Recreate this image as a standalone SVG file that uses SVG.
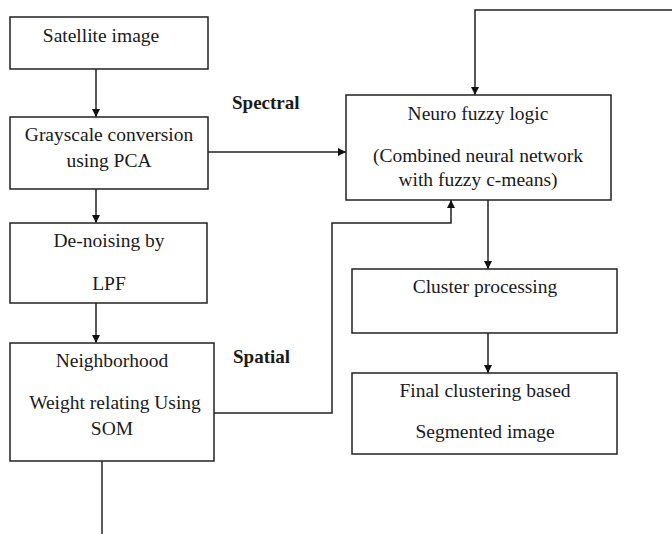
<svg xmlns="http://www.w3.org/2000/svg" width="672" height="534" viewBox="0 0 672 534">
  <style>
    .box { fill: #ffffff; stroke: #222222; stroke-width: 1.5; }
    .lbl { font-family: "Liberation Serif", "Times New Roman", serif; font-size: 19.5px; fill: #1a1a1a; text-anchor: middle; }
    .tag { font-family: "Liberation Serif", "Times New Roman", serif; font-size: 19px; font-weight: bold; fill: #1a1a1a; }
    .wire { fill: none; stroke: #222222; stroke-width: 1.5; }
  </style>
  <defs>
    <marker id="arrow" viewBox="0 0 10 10" refX="10" refY="5" markerWidth="8" markerHeight="8" markerUnits="userSpaceOnUse" orient="auto">
      <path d="M0,0 L10,5 L0,10 z" fill="#111111"/>
    </marker>
  </defs>

  <rect width="672" height="534" fill="#ffffff"/>

  <g id="connectors">
    <path class="wire" d="M96,69 V117" marker-end="url(#arrow)"/>
    <path class="wire" d="M96,189 V223" marker-end="url(#arrow)"/>
    <path class="wire" d="M96,303 V343" marker-end="url(#arrow)"/>
    <path class="wire" d="M208,152 H346" marker-end="url(#arrow)"/>
    <path class="wire" d="M214,413 H332 V223 H451 V200" marker-end="url(#arrow)"/>
    <path class="wire" d="M672,10 H475 V95" marker-end="url(#arrow)"/>
    <path class="wire" d="M488,200 V269" marker-end="url(#arrow)"/>
    <path class="wire" d="M488,333 V373" marker-end="url(#arrow)"/>
    <path class="wire" d="M102,461 V534"/>
  </g>

  <g id="satellite">
    <rect class="box" x="10" y="17" width="198" height="52"/>
    <text class="lbl" x="101" y="42">Satellite image</text>
  </g>

  <g id="grayscale">
    <rect class="box" x="10" y="117" width="198" height="72"/>
    <text class="lbl" x="109" y="141">Grayscale conversion</text>
    <text class="lbl" x="109" y="167">using PCA</text>
  </g>

  <g id="denoising">
    <rect class="box" x="10" y="223" width="197" height="80"/>
    <text class="lbl" x="109" y="247">De-noising by</text>
    <text class="lbl" x="109" y="290">LPF</text>
  </g>

  <g id="neighborhood">
    <rect class="box" x="10" y="343" width="204" height="118"/>
    <text class="lbl" x="112" y="367">Neighborhood</text>
    <text class="lbl" x="115" y="409">Weight relating Using</text>
    <text class="lbl" x="112" y="435">SOM</text>
  </g>

  <g id="neuro-fuzzy">
    <rect class="box" x="346" y="95" width="265" height="105"/>
    <text class="lbl" x="478" y="120">Neuro fuzzy logic</text>
    <text class="lbl" x="478" y="162">(Combined neural network</text>
    <text class="lbl" x="478" y="186">with fuzzy c-means)</text>
  </g>

  <g id="cluster-processing">
    <rect class="box" x="352" y="269" width="265" height="64"/>
    <text class="lbl" x="485" y="293">Cluster processing</text>
  </g>

  <g id="final-clustering">
    <rect class="box" x="352" y="373" width="265" height="81"/>
    <text class="lbl" x="485" y="397">Final clustering based</text>
    <text class="lbl" x="485" y="438">Segmented image</text>
  </g>

  <g id="labels">
    <text class="tag" x="232" y="109">Spectral</text>
    <text class="tag" x="233" y="363">Spatial</text>
  </g>
</svg>
